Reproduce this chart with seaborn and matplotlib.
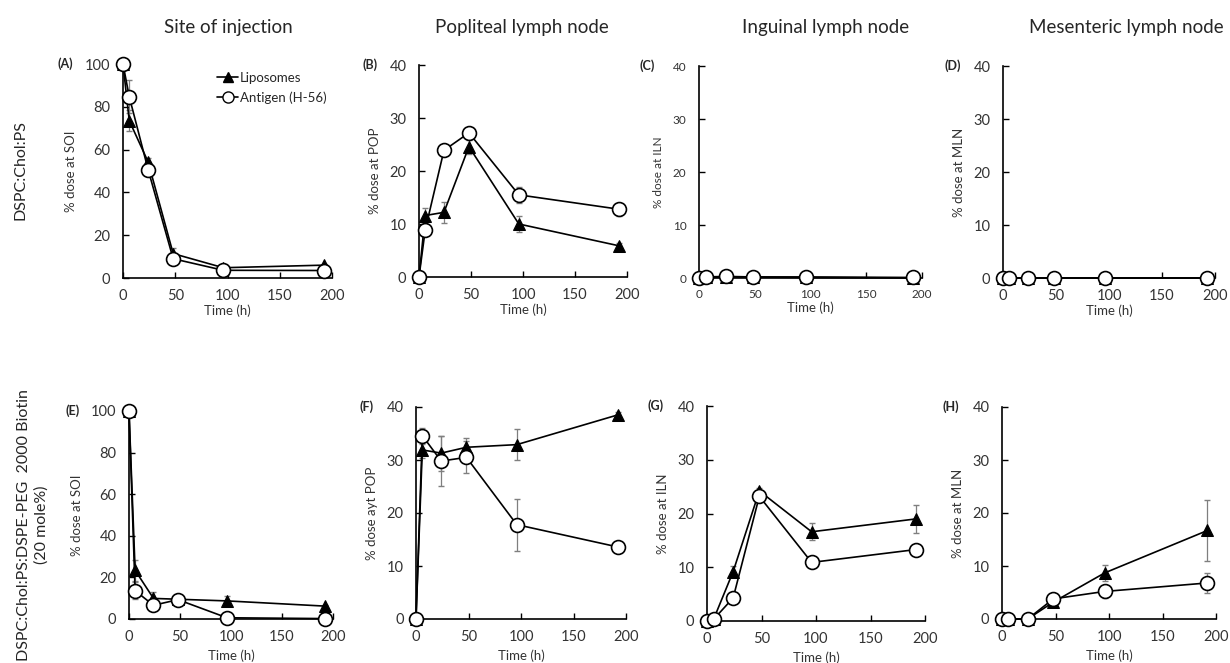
import numpy as np
import pandas as pd
import seaborn as sns
import matplotlib
matplotlib.use('Agg')
import matplotlib.pyplot as plt
from matplotlib.lines import Line2D

# Data
time_h = [0, 6, 24, 48, 96, 192]

col_titles = ['Site of injection', 'Popliteal lymph node', 'Inguinal lymph node', 'Mesenteric lymph node']
row_labels = ['DSPC:Chol:PS', 'DSPC:Chol:PS:DSPE-PEG  2000 Biotin\n(20 mole%)']
panel_tags = ['(A)', '(B)', '(C)', '(D)', '(E)', '(F)', '(G)', '(H)']
ylabels = ['% dose at SOI', '% dose at POP', '% dose at ILN', '% dose at MLN',
           '% dose at SOI', '% dose ayt POP', '% dose at ILN', '% dose at MLN']

# liposomes (mean, sd) per panel A..H
lipo = [
    [100, 73.5, 54.3, 11.4, 4.8, 6.0],
    [0, 11.6, 12.2, 24.6, 10.0, 5.9],
    [0, 0.1, 0.2, 0.2, 0.1, 0.0],
    [0, 0.0, 0.0, 0.0, 0.0, 0.0],
    [100, 23.4, 9.9, 9.5, 8.7, 6.2],
    [0, 31.9, 31.3, 32.4, 32.9, 38.5],
    [0, 0.3, 9.2, 24.2, 16.6, 19.0],
    [0, 0.0, 0.0, 3.2, 8.7, 16.7],
]
lipo_err = [
    [0, 5.0, 2.0, 2.5, 1.0, 0.5],
    [0, 1.5, 2.0, 1.3, 1.5, 0.6],
    [0, 0, 0, 0, 0, 0],
    [0, 0, 0, 0, 0, 0],
    [0, 5.0, 3.0, 2.0, 2.5, 0.5],
    [0, 1.5, 3.3, 1.8, 2.9, 0.5],
    [0, 0.2, 1.0, 0.5, 1.6, 2.6],
    [0, 0, 0, 0.4, 1.5, 5.7],
]
antigen = [
    [100, 84.7, 50.7, 9.0, 3.6, 3.5],
    [0, 8.9, 23.9, 27.2, 15.5, 12.8],
    [0, 0.2, 0.3, 0.2, 0.2, 0.1],
    [0, 0.0, 0.0, 0.0, 0.0, 0.0],
    [100, 13.6, 6.6, 9.3, 0.6, 0.2],
    [0, 34.6, 29.8, 30.5, 17.8, 13.6],
    [0, 0.3, 4.3, 23.2, 10.9, 13.3],
    [0, 0.0, 0.0, 3.8, 5.2, 6.8],
]
antigen_err = [
    [0, 7.8, 3.0, 1.5, 1.0, 0.5],
    [0, 1.0, 0.5, 0.8, 1.5, 1.2],
    [0, 0, 0, 0, 0, 0],
    [0, 0, 0, 0, 0, 0],
    [0, 4.0, 1.0, 1.0, 0.3, 0.2],
    [0, 1.5, 4.7, 3.0, 4.9, 0.5],
    [0, 0.2, 0.5, 0.5, 1.0, 0.5],
    [0, 0, 0, 0.3, 1.3, 1.8],
]
ymax = [100, 40, 40, 40, 100, 40, 40, 40]

sns.set_style('ticks')
plt.rcParams['font.family'] = ['Lato', 'DejaVu Sans']

W, H = 1230, 663
fig = plt.figure(figsize=(12.3, 6.63), dpi=100)

# axes boxes in pixels: x0, x1, ytop, ybottom
boxes = [
    (123, 332, 64, 278), (419, 627, 65, 277), (699, 922, 66, 278), (1003, 1215, 66, 278),
    (129, 333, 411, 619), (416, 626, 407, 619), (707, 925, 406, 621), (1002, 1216, 407, 619),
]

for i, (x0, x1, yt, yb) in enumerate(boxes):
    ax = fig.add_axes([x0 / W, 1 - yb / H, (x1 - x0) / W, (yb - yt) / H])
    df = pd.DataFrame({'t': time_h, 'lipo': lipo[i], 'ag': antigen[i]})
    ax.errorbar(time_h, lipo[i], yerr=lipo_err[i], fmt='none', ecolor='#7f7f7f',
                elinewidth=0.9, capsize=2.5, zorder=1, clip_on=False)
    ax.errorbar(time_h, antigen[i], yerr=antigen_err[i], fmt='none', ecolor='#7f7f7f',
                elinewidth=0.9, capsize=2.5, zorder=1, clip_on=False)
    sns.lineplot(data=df, x='t', y='lipo', ax=ax, color='black', marker='^', markersize=8,
                 markerfacecolor='black', markeredgecolor='black', linewidth=1.2,
                 clip_on=False, zorder=3)
    sns.lineplot(data=df, x='t', y='ag', ax=ax, color='black', marker='o', markersize=10,
                 markerfacecolor='white', markeredgecolor='black', markeredgewidth=1.2,
                 linewidth=1.2, clip_on=False, zorder=4)
    ax.set_xlim(0, 200)
    ax.set_ylim(0, ymax[i])
    ax.set_xticks([0, 50, 100, 150, 200])
    ax.set_yticks(np.arange(0, ymax[i] + 1, 20 if ymax[i] == 100 else 10))
    sns.despine(ax=ax)
    for s in ['left', 'bottom']:
        ax.spines[s].set_linewidth(1.2)
        ax.spines[s].set_color('black')
    tsize = 8.5 if i == 2 else 10.5
    ax.tick_params(direction='in', length=4, width=1, labelsize=tsize, colors='black',
                   labelcolor='#333333')
    ax.tick_params(axis='x', pad=8)
    ax.tick_params(axis='y', pad=9)
    ax.set_ylabel(ylabels[i], fontsize=9.5 if i != 2 else 8.5, color='#333333', labelpad=6)
    ax.set_xlabel('Time (h)', fontsize=9.5, color='#333333', labelpad=1 if i < 4 else 4)
    tag_x = -0.24 if ymax[i] == 100 else -0.2
    ax.text(tag_x, 1.0, panel_tags[i], transform=ax.transAxes, fontsize=9, fontweight='bold',
            ha='right', va='center')
    if i == 0:
        handles = [Line2D([], [], color='black', marker='^', markersize=7, lw=1.2,
                          markerfacecolor='black'),
                   Line2D([], [], color='black', marker='o', markersize=8, lw=1.2,
                          markerfacecolor='white')]
        ax.legend(handles, ['Liposomes', 'Antigen (H-56)'], loc='upper right',
                  bbox_to_anchor=(1.03, 1.02), frameon=False, fontsize=9.5,
                  handlelength=1.6, handletextpad=0.1, labelspacing=0.6)

# column titles
for x, t in zip([228, 522, 826, 1126], col_titles):
    fig.text(x / W, 1 - 27 / H, t, fontsize=13.5, ha='center', va='center')

# row labels
fig.text(20 / W, 1 - 170 / H, row_labels[0], rotation=90, fontsize=11.5, ha='center', va='center')
fig.text(33 / W, 1 - 525 / H, row_labels[1], rotation=90, fontsize=11.5, ha='center',
         va='center', multialignment='center', linespacing=1.3)

plt.savefig('out.png', dpi=100)
